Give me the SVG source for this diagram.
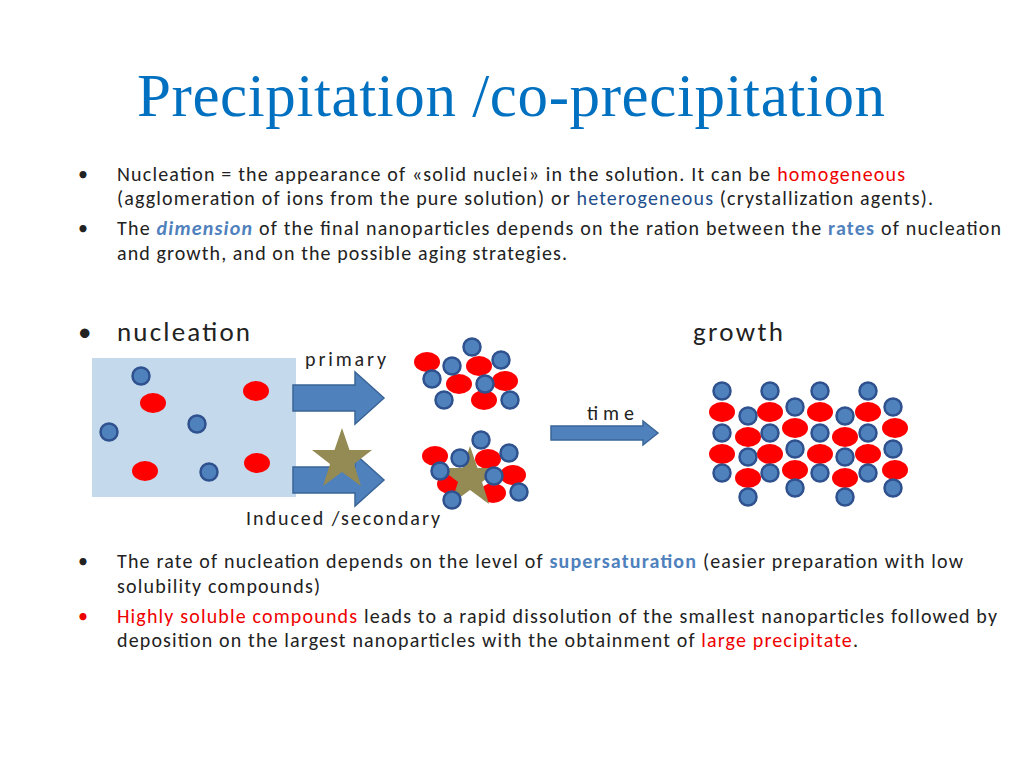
<svg xmlns="http://www.w3.org/2000/svg" width="1024" height="768" viewBox="0 0 1024 768">
<style>
.t{font-family:Carlito,Calibri,"Liberation Sans",sans-serif;font-size:20px;fill:#222}
.h{font-family:Carlito,Calibri,"Liberation Sans",sans-serif;font-size:27px;fill:#222}
.r{fill:#e00}.b{fill:#4f81bd;font-weight:bold}.d{fill:#1f4e8c}
.bc{fill:#4f81bd;stroke:#2f528f;stroke-width:2.5}
.rd{fill:#f00}
.ar{fill:#4f81bd;stroke:#3a6597;stroke-width:1.5}
.st{fill:#948a54}
</style>
<defs>
<circle id="B" r="8.5" class="bc"/>
<ellipse id="R" rx="13" ry="10" class="rd"/>
<polygon id="S" points="0,-32 7.5,-10 30,-10 12,4 19,26 0,12 -19,26 -12,4 -30,-10 -7.5,-10" class="st"/>
</defs>
<rect width="1024" height="768" fill="#fff"/>
<text x="511" y="116" text-anchor="middle" font-family="Liberation Serif,serif" font-size="61" fill="#0070c0" textLength="748">Precipitation /co-precipitation</text>
<g class="t">
<text x="78" y="181">•</text>
<text x="117" y="181" textLength="788">Nucleation = the appearance of «solid nuclei» in the solution. It can be <tspan class="r">homogeneous</tspan></text>
<text x="117" y="205" textLength="816">(agglomeration of ions from the pure solution) or <tspan class="d">heterogeneous</tspan> (crystallization agents).</text>
<text x="78" y="235">•</text>
<text x="117" y="235" textLength="884">The <tspan class="b" font-style="italic">dimension</tspan> of the final nanoparticles depends on the ration between the <tspan class="b">rates</tspan> of nucleation</text>
<text x="117" y="260" textLength="450">and growth, and on the possible aging strategies.</text>
<text x="78" y="568">•</text>
<text x="117" y="568" textLength="846">The rate of nucleation depends on the level of <tspan class="b">supersaturation</tspan> (easier preparation with low</text>
<text x="117" y="593" textLength="203">solubility compounds)</text>
<text x="78" y="623" class="r">•</text>
<text x="117" y="623" textLength="880"><tspan class="r">Highly soluble compounds</tspan> leads to a rapid dissolution of the smallest nanoparticles followed by</text>
<text x="117" y="647" textLength="741">deposition on the largest nanoparticles with the obtainment of <tspan class="r">large precipitate</tspan>.</text>
<text x="305" y="366" textLength="81">primary</text>
<text x="587" y="420" textLength="47">time</text>
<text x="246" y="525" textLength="194">Induced /secondary</text>
</g>
<text x="78" y="341" class="h">•</text>
<text x="117" y="341" class="h" textLength="133">nucleation</text>
<text x="693" y="341" class="h" textLength="90">growth</text>
<g id="box">
<rect x="92" y="358" width="204" height="139" fill="#c5d9ec"/>
<use href="#R" x="153" y="403"/><use href="#R" x="256" y="391"/><use href="#R" x="145" y="471"/><use href="#R" x="257" y="463"/>
<use href="#B" x="141" y="376"/><use href="#B" x="197" y="424"/><use href="#B" x="109" y="432"/><use href="#B" x="209" y="472"/>
</g>
<g id="arrows">
<polygon class="ar" points="293,385 355,385 355,372 384,398 355,424 355,411 293,411"/>
<polygon class="ar" points="293,467 355,467 355,454 384,480 355,506 355,493 293,493"/>
<polygon class="ar" points="551,426 643,426 643,421 658,433 643,445 643,440 551,440"/>
<use href="#S" x="342" y="460"/>
</g>
<g id="primary">
<use href="#R" x="427" y="362"/><use href="#R" x="479" y="366"/><use href="#R" x="459" y="384"/><use href="#R" x="505" y="381"/><use href="#R" x="484" y="400"/>
<use href="#B" x="472" y="347"/><use href="#B" x="452" y="366"/><use href="#B" x="432" y="379"/><use href="#B" x="444" y="400"/><use href="#B" x="485" y="384"/><use href="#B" x="501" y="360"/><use href="#B" x="510" y="400"/>
</g>
<g id="secondary">
<use href="#R" x="435" y="456"/><use href="#R" x="488" y="459"/><use href="#R" x="450" y="484"/><use href="#R" x="513" y="475"/><use href="#R" x="493" y="493"/>
<use href="#S" x="470" y="478"/>
<use href="#B" x="481" y="440"/><use href="#B" x="460" y="458"/><use href="#B" x="440" y="471"/><use href="#B" x="452" y="500"/><use href="#B" x="494" y="476"/><use href="#B" x="509" y="453"/><use href="#B" x="519" y="492"/>
</g>
<g id="growth">
<g><use href="#R" x="722" y="412"/><use href="#R" x="722" y="454"/><use href="#R" x="748" y="437"/><use href="#R" x="748" y="478"/>
<use href="#B" x="722" y="391"/><use href="#B" x="722" y="433"/><use href="#B" x="722" y="473"/><use href="#B" x="748" y="416"/><use href="#B" x="748" y="457"/><use href="#B" x="748" y="497"/></g>
<g><use href="#R" x="770" y="412"/><use href="#R" x="770" y="454"/><use href="#R" x="795" y="428"/><use href="#R" x="795" y="470"/>
<use href="#B" x="770" y="391"/><use href="#B" x="770" y="433"/><use href="#B" x="770" y="473"/><use href="#B" x="795" y="407"/><use href="#B" x="795" y="449"/><use href="#B" x="795" y="488"/></g>
<g><use href="#R" x="820" y="412"/><use href="#R" x="820" y="454"/><use href="#R" x="845" y="437"/><use href="#R" x="845" y="478"/>
<use href="#B" x="820" y="391"/><use href="#B" x="820" y="433"/><use href="#B" x="820" y="473"/><use href="#B" x="845" y="416"/><use href="#B" x="845" y="457"/><use href="#B" x="845" y="497"/></g>
<g><use href="#R" x="868" y="412"/><use href="#R" x="868" y="454"/><use href="#R" x="895" y="428"/><use href="#R" x="895" y="470"/>
<use href="#B" x="868" y="391"/><use href="#B" x="868" y="433"/><use href="#B" x="868" y="473"/><use href="#B" x="893" y="407"/><use href="#B" x="893" y="449"/><use href="#B" x="893" y="488"/></g>
</g>
</svg>
